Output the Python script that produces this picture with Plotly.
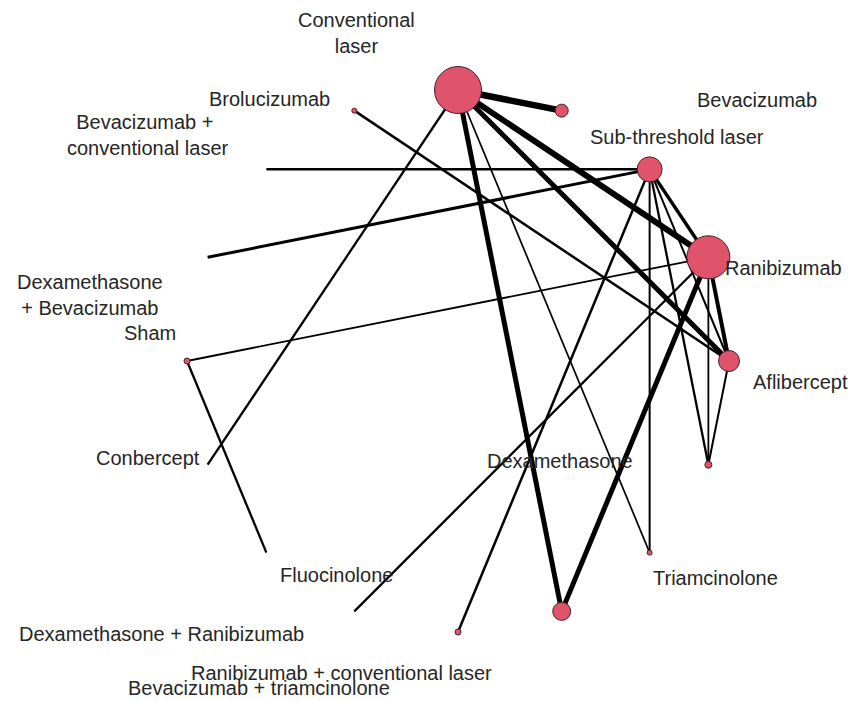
import math
import plotly.graph_objects as go

# ---- data ----
treatments = [
    "Conventional laser", "Bevacizumab", "Sub-threshold laser", "Ranibizumab",
    "Aflibercept", "Dexamethasone", "Triamcinolone", "Ranibizumab + conventional laser",
    "Bevacizumab + triamcinolone", "Dexamethasone + Ranibizumab", "Fluocinolone",
    "Conbercept", "Sham", "Dexamethasone + Bevacizumab",
    "Bevacizumab + conventional laser", "Brolucizumab",
]
# relative node weight (marker diameter)
node_weight = [47, 13, 25, 43, 21, 7, 5, 18, 6, 0, 0, 0, 6, 0, 0, 5]

# comparisons (from, to, thickness ~ number of studies)
edge_from = ["Conventional laser", "Conventional laser", "Conventional laser", "Conventional laser",
             "Conventional laser", "Conventional laser", "Ranibizumab", "Ranibizumab",
             "Sub-threshold laser", "Sub-threshold laser", "Sub-threshold laser", "Sub-threshold laser",
             "Sub-threshold laser", "Sub-threshold laser", "Sub-threshold laser", "Brolucizumab",
             "Sham", "Sham", "Ranibizumab", "Ranibizumab", "Aflibercept"]
edge_to = ["Bevacizumab", "Ranibizumab", "Aflibercept", "Ranibizumab + conventional laser",
           "Triamcinolone", "Conbercept", "Ranibizumab + conventional laser", "Aflibercept",
           "Ranibizumab", "Dexamethasone + Bevacizumab", "Bevacizumab + conventional laser",
           "Bevacizumab + triamcinolone", "Triamcinolone", "Dexamethasone", "Aflibercept",
           "Aflibercept", "Ranibizumab", "Fluocinolone", "Dexamethasone + Ranibizumab",
           "Dexamethasone", "Dexamethasone"]
edge_weight = [6.5, 6, 5, 5, 1.7, 2.3, 5, 4,
               3.5, 3, 2.5, 2.5, 2, 2.3, 2,
               2.5, 1.8, 2.3, 2.3, 1.8, 2]

# label display positions (pixels) and text
label_text = {
    "Conventional laser": "Conventional<br>laser",
    "Bevacizumab + conventional laser": "Bevacizumab + <br>conventional laser",
    "Dexamethasone + Bevacizumab": "Dexamethasone<br>+ Bevacizumab",
}
label_pos = {
    "Conventional laser": (356, 33),
    "Bevacizumab": (757, 100),
    "Sub-threshold laser": (677, 137),
    "Ranibizumab": (783, 268),
    "Aflibercept": (800, 382),
    "Dexamethasone": (560, 461),
    "Triamcinolone": (715, 578),
    "Ranibizumab + conventional laser": (341, 673),
    "Bevacizumab + triamcinolone": (259, 688),
    "Dexamethasone + Ranibizumab": (161, 634),
    "Fluocinolone": (336, 575),
    "Conbercept": (148, 458),
    "Sham": (150, 333),
    "Dexamethasone + Bevacizumab": (90, 295),
    "Bevacizumab + conventional laser": (148, 135),
    "Brolucizumab": (269, 99),
}

# ---- circular layout ----
CX, CY, R = 458, 361, 271
n = len(treatments)
pos = {}
for i, t in enumerate(treatments):
    ang = math.pi / 2 - 2 * math.pi * i / n
    pos[t] = (CX + R * math.cos(ang), CY - R * math.sin(ang))

fig = go.Figure()
for a, b, w in zip(edge_from, edge_to, edge_weight):
    fig.add_trace(go.Scatter(
        x=[pos[a][0], pos[b][0]], y=[pos[a][1], pos[b][1]],
        mode="lines", line=dict(color="black", width=w),
        hoverinfo="skip", showlegend=False))

fig.add_trace(go.Scatter(
    x=[pos[t][0] for t in treatments], y=[pos[t][1] for t in treatments],
    mode="markers",
    marker=dict(size=node_weight, color="#DF536B", opacity=1,
                line=dict(color="#4a2228", width=1)),
    opacity=1,
    text=treatments, hoverinfo="text", showlegend=False))

for t in treatments:
    px, py = label_pos[t]
    fig.add_annotation(x=px, y=py, text=label_text.get(t, t), showarrow=False,
                       xanchor="center", yanchor="middle",
                       font=dict(family="Liberation Sans, Arial", size=20, color="#262626"))

# page body has an 8px margin: offset the ranges so marks land on reference pixels
OFF = 8
fig.update_layout(
    width=864, height=701,
    margin=dict(l=0, r=0, t=0, b=0),
    paper_bgcolor="white", plot_bgcolor="white",
    xaxis=dict(range=[OFF, 864 + OFF], visible=False, fixedrange=True),
    yaxis=dict(range=[701 + OFF, OFF], visible=False, fixedrange=True),
)
fig.write_html("out.html")
